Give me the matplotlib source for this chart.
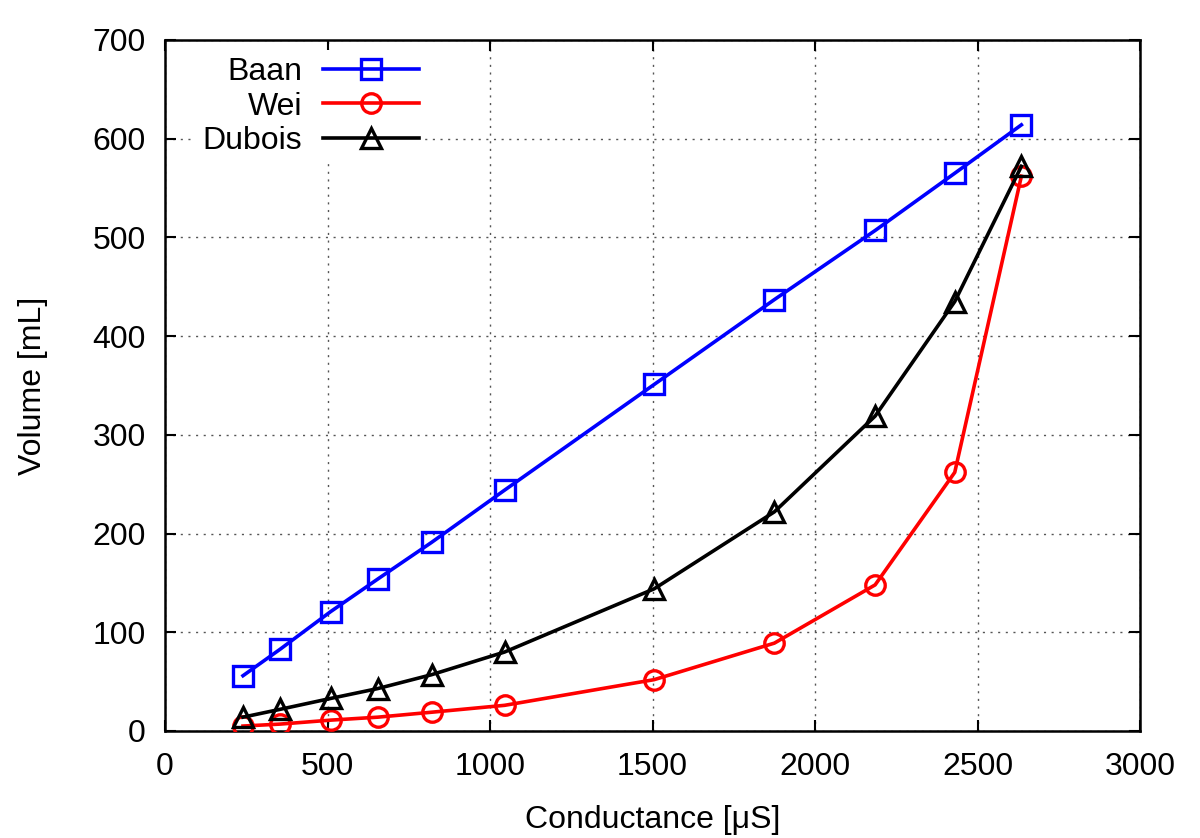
import matplotlib
matplotlib.use("Agg")
import matplotlib.pyplot as plt

plt.rcParams['font.family'] = ['Liberation Sans', 'DejaVu Sans']

conductance = [240, 355, 510, 655, 820, 1045, 1505, 1875, 2185, 2430, 2635]
baan = [56, 83, 121, 154, 191, 244, 351, 437, 507, 565, 614]
wei = [5, 7, 11, 14, 19, 26, 52, 89, 148, 262, 562]
dubois = [14, 22, 33, 43, 57, 80, 144, 222, 319, 435, 572]

x_ticks = [0, 500, 1000, 1500, 2000, 2500, 3000]
y_ticks = [0, 100, 200, 300, 400, 500, 600, 700]

FS = 23

fig = plt.figure(figsize=(12, 8.38), dpi=100)
ax = fig.add_axes([0.1375, 0.1277, 0.8125, 0.8246])

lw = 2.6
mew = 2.4
ax.plot(conductance, baan, color='#0000ff', lw=lw, marker='s', ms=14,
        mfc='none', mec='#0000ff', mew=mew, label='Baan', zorder=3)
ax.plot(conductance, wei, color='#ff0000', lw=lw, marker='o', ms=14,
        mfc='none', mec='#ff0000', mew=mew, label='Wei', zorder=3)
ax.plot(conductance, dubois, color='black', lw=lw, marker='^', ms=15,
        mfc='none', mec='black', mew=mew, label='Dubois', zorder=3)

ax.set_xlim(0, 3000)
ax.set_ylim(0, 700)
ax.set_xticks(x_ticks)
ax.set_yticks(y_ticks)
ax.tick_params(direction='in', length=8, width=1.5, top=True, right=True,
               labelsize=FS)
ax.tick_params(axis='x', pad=15)
ax.tick_params(axis='y', pad=14)
ax.grid(True, linestyle=(0, (1.5, 4)), color='#555555', lw=1.0)
ax.set_axisbelow(True)
for s in ax.spines.values():
    s.set_linewidth(1.8)

ax.set_xlabel('Conductance [μS]', fontsize=FS, labelpad=17)
ax.set_ylabel('Volume [mL]', fontsize=FS, labelpad=32)

leg = ax.legend(loc='upper left', bbox_to_anchor=(0.032, 0.985), markerfirst=False,
                frameon=True, fontsize=FS, handlelength=3.0, handletextpad=0.65,
                labelspacing=0.15, borderaxespad=0.0, borderpad=0.2)
leg.get_frame().set_facecolor('white')
leg.get_frame().set_edgecolor('none')
leg.get_frame().set_alpha(1.0)
leg.get_frame().set_boxstyle('square', pad=0.0)
for t in leg.get_texts():
    t.set_ha('right')
leg._legend_box.align = 'right'

fig.savefig('out.png', dpi=100)
